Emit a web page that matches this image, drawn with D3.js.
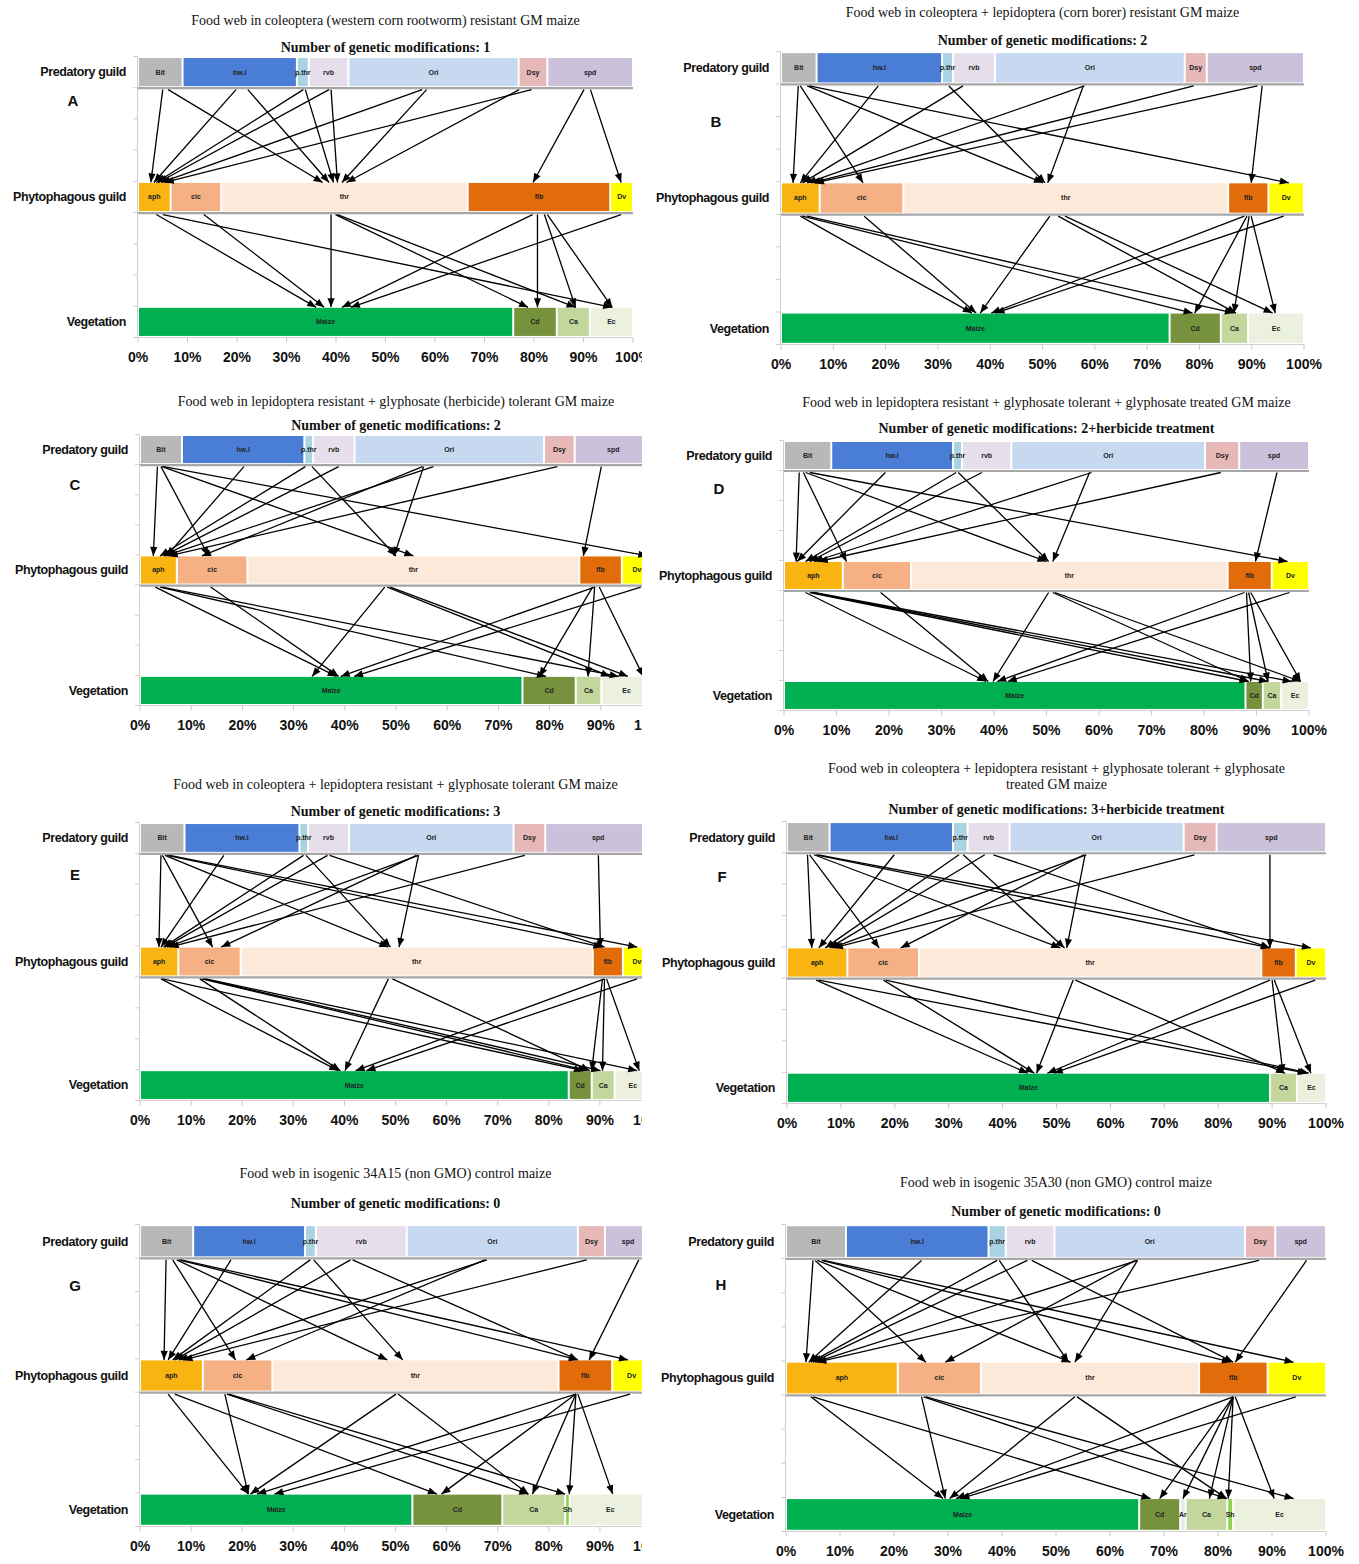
<!DOCTYPE html>
<html lang="en">
<head>
<meta charset="UTF-8">
<title>Food webs in GM and control maize</title>
<script src="https://d3js.org/d3.v7.min.js"></script>
<style>
  body { margin: 0; background: #fff; }
  .title { font: 14px "Liberation Serif", "Times New Roman", serif; fill: #111; }
  .subtitle { font: bold 14px "Liberation Serif", "Times New Roman", serif; fill: #111; }
  .rowlab { font: bold 12.5px "Liberation Sans", Arial, sans-serif; letter-spacing: -0.4px; fill: #111; }
  .seglab { font: bold 7px "Liberation Sans", Arial, sans-serif; fill: #222; }
  .ticklab { font: bold 14px "Liberation Sans", Arial, sans-serif; fill: #111; }
  .letter { font: bold 15px "Liberation Sans", Arial, sans-serif; fill: #111; }
</style>
</head>
<body>
<script>
// guild members (segment order left to right)
const predNames  = ["Bit", "hw.l", "p.thr", "rvb", "Ori", "Dsy", "spd"];
const phytoNames = ["aph", "cic", "thr", "flb", "Dv"];
const vegNames   = ["Maize", "Cd", "Ar", "Ca", "Sh", "Ec"];

const predColors  = ["#b8b8b8", "#4a7ed6", "#a9d3e3", "#e6dfeb", "#c6d9f1", "#e6b8b7", "#ccc1da"];
const phytoColors = ["#f9b412", "#f5b184", "#fde9d9", "#e26b0a", "#ffff00"];
const vegColors   = ["#00b050", "#76923c", "#e6e7f2", "#c3d69b", "#92d050", "#ebf1de"];

const tickLabels = ["0%", "10%", "20%", "30%", "40%", "50%", "60%", "70%", "80%", "90%", "100%"];

// relative share (%) of each member
const predA = [9.0, 23.1, 2.4, 8.0, 34.4, 5.8, 17.3];
const predB = [6.8, 24.0, 2.1, 8.0, 36.3, 4.2, 18.6];
const predC = [8.2, 23.9, 1.7, 8.1, 37.0, 6.0, 15.1];
const predD = [9.0, 23.2, 1.7, 9.4, 36.9, 6.5, 13.3];
const predE = [8.7, 22.5, 1.7, 8.0, 32.2, 6.2, 20.7];
const predF = [7.9, 22.9, 2.7, 7.8, 32.3, 6.1, 20.3];
const predG = [10.4, 21.9, 2.1, 17.8, 33.5, 5.3, 9.0];
const predH = [11.1, 26.4, 3.2, 9.0, 35.3, 5.6, 9.4];

const phytoA = [6.6, 10.2, 49.8, 28.8, 4.6];
const phytoB = [7.4, 16.0, 62.1, 7.7, 6.8];
const phytoC = [7.2, 13.8, 64.8, 8.3, 5.9];
const phytoD = [11.2, 13.0, 60.3, 8.4, 7.1];
const phytoE = [7.5, 12.2, 68.9, 5.9, 5.5];
const phytoF = [11.2, 13.3, 63.5, 6.4, 5.6];
const phytoG = [12.3, 13.6, 56.0, 10.5, 7.6];
const phytoH = [20.7, 15.4, 40.4, 12.7, 10.8];

const vegA = [75.8, 8.8, 0, 6.7, 0, 8.7];
const vegB = [74.3, 9.8, 0, 5.2, 0, 10.7];
const vegC = [74.7, 10.4, 0, 5.0, 0, 9.9];
const vegD = [87.9, 3.3, 0, 3.5, 0, 5.3];
const vegE = [83.9, 4.5, 0, 4.5, 0, 7.1];
const vegF = [89.6, 0, 0, 5.0, 0, 5.4];
const vegG = [53.3, 17.6, 0, 12.3, 0.9, 15.9];
const vegH = [65.4, 7.6, 1.0, 7.7, 1.1, 17.2];

// feeding links: [x% at start, x% at arrow head]
const upperA = [[5.0,2.6],[6.1,37.3],[19.8,3.2],[22.2,38.6],[33.4,3.7],[33.8,39.5],[38.6,4.1],[39.0,40.3],[57.4,4.7],[58.3,41.2],[79.5,5.4],[77.0,42.1],[90.1,79.8],[91.4,97.6]];
const lowerA = [[3.7,36.0],[5.0,95.8],[13.3,37.6],[39.0,39.0],[39.9,78.8],[40.3,88.4],[79.7,41.2],[80.7,80.7],[82.1,88.4],[82.7,95.8],[97.6,43.0]];

const upperB = [[3.3,2.3],[3.7,15.7],[5.0,50.1],[5.4,97.1],[18.6,3.7],[32.1,50.5],[34.8,4.1],[58.0,5.0],[57.8,51.0],[78.9,5.8],[91.1,6.5],[92.0,89.9]];
const lowerB = [[3.7,36.5],[4.1,78.7],[5.0,86.6],[15.9,37.3],[51.4,38.1],[53.0,87.0],[54.3,94.0],[88.6,40.2],[89.1,79.1],[89.5,86.6],[89.9,94.5],[96.1,41.0]];

const upperC = [[3.4,2.6],[4.1,13.4],[4.3,53.4],[4.6,99.1],[20.3,5.2],[32.3,3.9],[33.6,50.0],[38.8,4.6],[57.3,4.9],[55.2,12.1],[55.4,49.6],[81.5,5.6],[90.1,86.6]];
const lowerC = [[3.0,38.4],[3.9,79.3],[4.3,93.5],[13.8,38.8],[47.8,33.6],[48.3,91.8],[48.9,95.3],[88.8,39.2],[88.4,78.0],[88.8,87.5],[89.7,98.3],[97.8,41.8]];

const upperD = [[2.9,2.3],[3.7,11.9],[4.1,50.0],[4.9,95.9],[19.3,2.5],[32.8,4.1],[33.2,50.4],[37.7,4.9],[58.6,5.7],[58.2,51.2],[83.2,6.6],[93.9,89.8]];
const lowerD = [[4.1,38.5],[4.9,88.5],[5.3,92.2],[5.7,96.7],[18.4,38.9],[50.4,39.8],[51.2,88.5],[51.6,98.4],[87.7,40.6],[88.1,88.9],[88.5,92.2],[88.9,98.4],[96.3,42.6]];

const upperE = [[4.1,3.7],[4.4,14.2],[4.9,48.6],[5.3,90.5],[5.8,97.3],[16.4,4.1],[32.0,4.6],[32.5,49.0],[36.7,4.9],[37.1,90.9],[54.5,5.3],[54.1,15.9],[54.5,50.7],[75.3,5.8],[89.7,90.1]];
const lowerE = [[4.1,38.8],[4.4,86.7],[11.7,39.2],[12.1,87.5],[12.5,90.1],[12.9,97.3],[48.6,40.1],[49.4,88.0],[90.9,42.2],[90.5,88.4],[90.9,90.5],[91.3,97.7],[97.3,44.3]];

const upperF = [[3.8,4.6],[4.2,17.1],[5.0,50.7],[5.4,89.6],[5.8,97.2],[19.9,5.9],[31.9,7.1],[32.7,51.5],[36.7,7.9],[38.3,89.6],[55.5,8.3],[55.1,21.1],[55.3,51.9],[75.6,8.7],[89.6,89.6]];
const lowerF = [[5.4,44.7],[5.9,96.4],[17.9,45.9],[18.3,96.8],[53.1,46.3],[53.5,92.4],[89.6,48.3],[90.0,92.0],[90.4,97.2],[98.0,49.5]];

const upperG = [[5.1,4.7],[6.4,18.7],[7.2,48.4],[7.6,85.7],[8.0,95.5],[17.8,5.5],[33.3,6.4],[34.0,51.4],[41.2,6.8],[41.6,85.7],[67.9,7.6],[67.5,20.8],[87.4,8.5],[97.6,87.9]];
const lowerG = [[5.5,21.2],[6.8,58.1],[16.6,21.2],[17.0,76.0],[17.4,83.2],[50.1,21.6],[50.5,76.0],[85.3,22.9],[85.3,59.0],[85.3,76.8],[85.3,84.0],[85.7,92.5],[95.9,26.3]];

const upperH = [[5.0,3.7],[5.4,25.9],[5.8,52.7],[6.6,82.4],[7.0,94.0],[25.1,4.2],[39.1,4.6],[39.5,52.3],[44.7,5.0],[45.5,82.8],[65.1,5.4],[64.7,29.5],[65.1,53.5],[87.6,5.8],[96.4,83.2]];
const lowerH = [[4.6,29.1],[5.0,67.5],[25.1,29.5],[25.5,81.6],[25.9,94.0],[53.5,30.3],[53.9,81.6],[82.8,31.5],[82.8,69.2],[82.8,73.5],[82.8,78.4],[82.8,81.9],[83.2,90.4],[94.4,32.3]];

const titles = {
  A: ["Food web in coleoptera (western corn rootworm) resistant GM maize"],
  B: ["Food web in coleoptera + lepidoptera (corn borer) resistant GM maize"],
  C: ["Food web in lepidoptera resistant + glyphosate (herbicide) tolerant GM maize"],
  D: ["Food web in lepidoptera resistant + glyphosate tolerant + glyphosate treated GM maize"],
  E: ["Food web in coleoptera + lepidoptera resistant + glyphosate tolerant GM maize"],
  F: ["Food web in coleoptera + lepidoptera resistant + glyphosate tolerant + glyphosate", "treated GM maize"],
  G: ["Food web in isogenic 34A15 (non GMO) control maize"],
  H: ["Food web in isogenic 35A30 (non GMO) control maize"]
};
const modifications = { A: "1", B: "2", C: "2", D: "2+herbicide treatment", E: "3", F: "3+herbicide treatment", G: "0", H: "0" };

// page layout of the eight panels
const layout = [
  { key: "A", pred: predA, phyto: phytoA, veg: vegA, upper: upperA, lower: lowerA, x0: 138, x1: 633, top: 58, bottom: 336, titleY: 20, subY: 47, letterY: 101, clip: true },
  { key: "B", pred: predB, phyto: phytoB, veg: vegB, upper: upperB, lower: lowerB, x0: 781, x1: 1304, top: 53, bottom: 343, titleY: 12, subY: 40, letterY: 122, clip: false },
  { key: "C", pred: predC, phyto: phytoC, veg: vegC, upper: upperC, lower: lowerC, x0: 140, x1: 652, top: 436, bottom: 704, titleY: 401, subY: 425, letterY: 485, clip: true },
  { key: "D", pred: predD, phyto: phytoD, veg: vegD, upper: upperD, lower: lowerD, x0: 784, x1: 1309, top: 442, bottom: 709, titleY: 402, subY: 428, letterY: 489, clip: false },
  { key: "E", pred: predE, phyto: phytoE, veg: vegE, upper: upperE, lower: lowerE, x0: 140, x1: 651, top: 824, bottom: 1099, titleY: 784, subY: 811, letterY: 875, clip: true },
  { key: "F", pred: predF, phyto: phytoF, veg: vegF, upper: upperF, lower: lowerF, x0: 787, x1: 1326, top: 823, bottom: 1102, titleY: 768, subY: 809, letterY: 877, clip: false },
  { key: "G", pred: predG, phyto: phytoG, veg: vegG, upper: upperG, lower: lowerG, x0: 140, x1: 651, top: 1226, bottom: 1525, titleY: 1173, subY: 1203, letterY: 1286, clip: true },
  { key: "H", pred: predH, phyto: phytoH, veg: vegH, upper: upperH, lower: lowerH, x0: 786, x1: 1326, top: 1226, bottom: 1530, titleY: 1182, subY: 1211, letterY: 1285, clip: false }
];

const width = 1359, height = 1564;

const svg = d3.select("body").append("svg")
  .attr("width", width)
  .attr("height", height);

const defs = svg.append("defs");
defs.append("clipPath").attr("id", "leftClip")
  .append("rect").attr("x", 0).attr("y", 0).attr("width", 642).attr("height", height);
defs.append("marker")
  .attr("id", "head")
  .attr("viewBox", "0 -5 10 10")
  .attr("refX", 10).attr("refY", 0)
  .attr("markerUnits", "userSpaceOnUse")
  .attr("markerWidth", 10).attr("markerHeight", 9)
  .attr("orient", "auto")
  .append("path").attr("d", "M0,-4L10,0L0,4Z").attr("fill", "#000");

function stack(vals, names, colors) {
  let cum = 0;
  return vals.map((v, i) => {
    const s = { name: names[i], color: colors[i], start: cum, end: cum + v };
    cum += v;
    return s;
  }).filter(s => s.end > s.start);
}

function drawPanel(p) {
  const g = svg.append("g");
  if (p.clip) g.attr("clip-path", "url(#leftClip)");

  const x = d3.scaleLinear().domain([0, 100]).range([p.x0, p.x1]);
  const y = d3.scaleBand().domain(d3.range(9))
    .range([p.top - 1.5, p.bottom + 1.5])
    .paddingInner(0.1).paddingOuter(0.05);
  const yStart = p.top - 1.5, yEnd = p.bottom + 1.5;
  const cx = (p.x0 + p.x1) / 2;

  // titles
  titles[p.key].forEach((t, i) => {
    g.append("text").attr("class", "title")
      .attr("x", cx).attr("y", p.titleY + i * 16).attr("dy", "0.35em")
      .attr("text-anchor", "middle").text(t);
  });
  g.append("text").attr("class", "subtitle")
    .attr("x", cx).attr("y", p.subY).attr("dy", "0.35em")
    .attr("text-anchor", "middle")
    .text("Number of genetic modifications: " + modifications[p.key]);

  // left category axis (faint) with ticks at band edges
  g.append("line")
    .attr("x1", p.x0 - 0.5).attr("x2", p.x0 - 0.5)
    .attr("y1", yStart).attr("y2", yEnd)
    .attr("stroke", "#d0d0d0").attr("stroke-width", 1);
  g.selectAll(".ytick").data(d3.range(10)).enter().append("line")
    .attr("x1", p.x0 - 5).attr("x2", p.x0 - 0.5)
    .attr("y1", i => yStart + i * y.step()).attr("y2", i => yStart + i * y.step())
    .attr("stroke", "#d0d0d0");

  // bottom percent axis
  g.append("line")
    .attr("x1", p.x0).attr("x2", p.x1)
    .attr("y1", yEnd).attr("y2", yEnd)
    .attr("stroke", "#d0d0d0");
  g.selectAll(".xtick").data(tickLabels).enter().append("line")
    .attr("x1", (d, i) => x(i * 10)).attr("x2", (d, i) => x(i * 10))
    .attr("y1", yEnd).attr("y2", yEnd + 5)
    .attr("stroke", "#c8c8c8");
  g.selectAll(".ticklab").data(tickLabels).enter().append("text")
    .attr("class", "ticklab")
    .attr("x", (d, i) => x(i * 10)).attr("y", yEnd + 20).attr("dy", "0.35em")
    .attr("text-anchor", "middle").text(d => d);

  const rows = [
    { idx: 0, label: "Predatory guild", segs: stack(p.pred, predNames, predColors) },
    { idx: 4, label: "Phytophagous guild", segs: stack(p.phyto, phytoNames, phytoColors) },
    { idx: 8, label: "Vegetation", segs: stack(p.veg, vegNames, vegColors) }
  ];

  rows.forEach(r => {
    const top = y(r.idx), h = y.bandwidth();
    if (r.idx < 8) {
      g.append("line")
        .attr("x1", p.x0).attr("x2", p.x1)
        .attr("y1", top + h + 2).attr("y2", top + h + 2)
        .attr("stroke", "#a6a6a6").attr("stroke-width", 2.2);
    }
    g.append("text").attr("class", "rowlab")
      .attr("x", p.x0 - 12).attr("y", top + h / 2).attr("dy", "0.35em")
      .attr("text-anchor", "end").text(r.label);
    g.selectAll(null).data(r.segs).enter().append("rect")
      .attr("x", d => x(d.start) + 1)
      .attr("y", top)
      .attr("width", d => Math.max(1, x(d.end) - x(d.start) - 2))
      .attr("height", h)
      .attr("fill", d => d.color);
    g.selectAll(null).data(r.segs).enter().append("text")
      .attr("class", "seglab")
      .attr("x", d => x((d.start + d.end) / 2))
      .attr("y", top + h / 2).attr("dy", "0.35em")
      .attr("text-anchor", "middle").text(d => d.name);
  });

  // panel letter
  g.append("text").attr("class", "letter")
    .attr("x", p.x0 - 65).attr("y", p.letterY).attr("dy", "0.35em")
    .attr("text-anchor", "middle").text(p.key);

  // feeding links
  const arrows = [
    { from: 0, to: 4, links: p.upper },
    { from: 4, to: 8, links: p.lower }
  ];
  arrows.forEach(a => {
    const ys = y(a.from) + y.bandwidth() + 3.5;
    const ye = y(a.to) - 0.5;
    g.selectAll(null).data(a.links).enter().append("line")
      .attr("x1", d => x(d[0])).attr("y1", ys)
      .attr("x2", d => x(d[1])).attr("y2", ye)
      .attr("stroke", "#000").attr("stroke-width", 1.3)
      .attr("marker-end", "url(#head)");
  });
}

layout.forEach(drawPanel);
</script>
</body>
</html>
